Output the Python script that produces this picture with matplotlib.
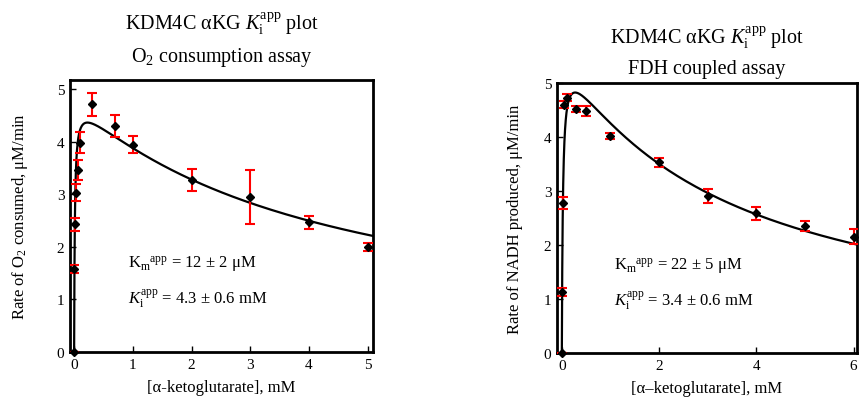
import numpy as np
import matplotlib
matplotlib.use("Agg")
import matplotlib.pyplot as plt

plt.rcParams['font.family'] = ['Liberation Serif', 'DejaVu Serif']
plt.rcParams['mathtext.fontset'] = 'custom'
plt.rcParams['mathtext.rm'] = 'Liberation Serif'
plt.rcParams['mathtext.it'] = 'Liberation Serif:italic'

# O2 consumption assay
o2_conc = [0, 0.005, 0.015, 0.03, 0.06, 0.1, 0.3, 0.7, 1, 2, 3, 4, 5]
o2_rate = [0, 1.58, 2.43, 3.03, 3.47, 3.98, 4.72, 4.31, 3.95, 3.27, 2.95, 2.47, 2.0]
o2_err = [0, 0.07, 0.13, 0.16, 0.19, 0.2, 0.22, 0.21, 0.17, 0.21, 0.51, 0.12, 0.08]
o2_vmax, o2_km, o2_ki = 4.83, 0.012, 4.3

# FDH coupled assay
fdh_conc = [0, 0.01, 0.02, 0.05, 0.1, 0.3, 0.5, 1, 2, 3, 4, 5, 6]
fdh_rate = [0, 1.13, 2.78, 4.6, 4.73, 4.52, 4.48, 4.02, 3.53, 2.9, 2.59, 2.35, 2.15]
fdh_err = [0, 0.07, 0.11, 0.06, 0.06, 0.05, 0.1, 0.05, 0.08, 0.13, 0.12, 0.09, 0.14]
fdh_vmax, fdh_km, fdh_ki = 5.6, 0.022, 3.4


def subinh(s, vmax, km, ki):
    # substrate inhibition model
    return vmax * s / (km + s * (1 + s / ki))


def panel(ax, x, y, err, pars, xlim, ylim, xticks, xlabel, ylabel, ypad, notes):
    s = np.concatenate([[0], np.geomspace(1e-4, xlim[1], 600)])
    ax.plot(s, subinh(s, *pars), color='black', lw=1.6, zorder=2)
    ax.errorbar(x, y, yerr=err, fmt='none', ecolor='red', elinewidth=1.5,
                capsize=3.5, capthick=1.5, zorder=3)
    ax.plot(x, y, 'D', color='black', ms=4.5, zorder=4, clip_on=False)
    ax.set_xlim(*xlim)
    ax.set_ylim(*ylim)
    ax.set_xticks(xticks)
    ax.set_yticks([0, 1, 2, 3, 4, 5])
    ax.tick_params(direction='in', length=4, width=1, labelsize=11, pad=4)
    for sp in ax.spines.values():
        sp.set_linewidth(2)
    ax.set_xlabel(xlabel, fontsize=12, labelpad=6)
    ax.set_ylabel(ylabel, fontsize=12, labelpad=ypad)
    ax.text(0.19, 0.31, notes[0], transform=ax.transAxes, fontsize=12)
    ax.text(0.19, 0.18, notes[1], transform=ax.transAxes, fontsize=12)


fig = plt.figure(figsize=(8.59, 4.02), dpi=100)

ax1 = fig.add_axes([0.0815, 0.122, 0.3527, 0.6766])
panel(ax1, o2_conc, o2_rate, o2_err, (o2_vmax, o2_km, o2_ki),
      (-0.07, 5.09), (0, 5.18), [0, 1, 2, 3, 4, 5],
      '[α-ketoglutarate], mM', r'Rate of O$_2$ consumed, μM/min', 19,
      [r'K$_\mathrm{m}$$^\mathrm{app}$ = 12 ± 2 μM',
       r'$K_\mathrm{i}^\mathrm{app}$ = 4.3 ± 0.6 mM'])

ax2 = fig.add_axes([0.6484, 0.1194, 0.3492, 0.6716])
panel(ax2, fdh_conc, fdh_rate, fdh_err, (fdh_vmax, fdh_km, fdh_ki),
      (-0.1, 6.07), (0, 5.0), [0, 2, 4, 6],
      '[α–ketoglutarate], mM', 'Rate of NADH produced, μM/min', 15,
      [r'K$_\mathrm{m}$$^\mathrm{app}$ = 22 ± 5 μM',
       r'$K_\mathrm{i}^\mathrm{app}$ = 3.4 ± 0.6 mM'])

fig.text(0.258, 0.925, r'KDM4C αKG $K_\mathrm{i}^\mathrm{app}$ plot', ha='center', fontsize=14.5)
fig.text(0.258, 0.845, r'O$_2$ consumption assay', ha='center', fontsize=14.5)
fig.text(0.823, 0.89, r'KDM4C αKG $K_\mathrm{i}^\mathrm{app}$ plot', ha='center', fontsize=14.5)
fig.text(0.823, 0.815, 'FDH coupled assay', ha='center', fontsize=14.5)

fig.savefig('out.png', dpi=100)
